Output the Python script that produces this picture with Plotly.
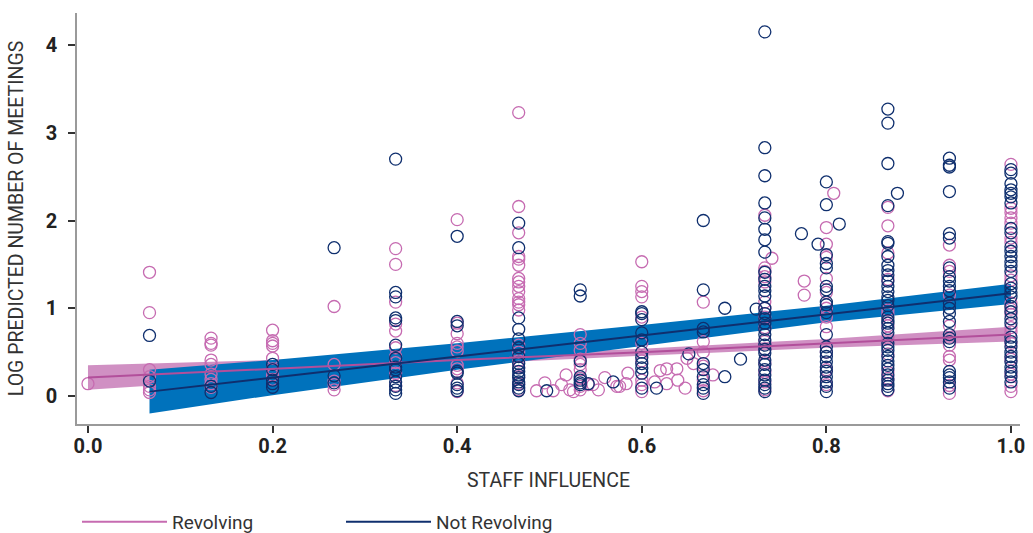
import plotly.graph_objects as go

# ---------------- data ----------------
staff_levels = [0.0, 1/15, 2/15, 0.2, 4/15, 1/3, 0.4, 7/15, 8/15, 0.6, 2/3, 11/15, 0.8, 13/15, 14/15, 1.0]

revolving_values = [
    [0.14],
    [1.41, 0.95, 0.30, 0.22, 0.11, 0.07, 0.04],
    [0.66, 0.60, 0.58, 0.41, 0.36, 0.25, 0.19, 0.14, 0.10],
    [0.75, 0.63, 0.60, 0.57, 0.43, 0.31, 0.24, 0.19],
    [1.02, 0.36, 0.17, 0.13, 0.07],
    [1.68, 1.50, 1.07, 0.82, 0.74, 0.55, 0.45, 0.38, 0.26, 0.12],
    [2.01, 0.83, 0.71, 0.60, 0.56, 0.51, 0.35, 0.31, 0.15, 0.05],
    [3.23, 2.16, 1.86, 1.59, 1.56, 1.49, 1.34, 1.30, 1.25, 1.19, 1.11, 1.07, 1.04, 0.98, 0.58, 0.50, 0.40, 0.33, 0.22, 0.14, 0.07],
    [0.70, 0.60, 0.52, 0.42, 0.36, 0.30, 0.20, 0.11, 0.07],
    [1.53, 1.25, 1.19, 1.13, 0.90, 0.60, 0.40, 0.18, 0.13, 0.05],
    [1.07, 0.62, 0.50, 0.34, 0.18, 0.06],
    [2.06, 1.46, 1.42, 1.36, 1.30, 1.07, 1.00, 0.90, 0.78, 0.62, 0.53, 0.38, 0.27, 0.16, 0.07],
    [1.92, 1.73, 1.58, 1.34, 1.18, 1.00, 0.90, 0.79, 0.50, 0.30, 0.13],
    [2.15, 1.94, 1.63, 1.33, 0.98, 0.94, 0.80, 0.66, 0.48, 0.27, 0.20, 0.06],
    [1.72, 1.49, 1.42, 1.15, 0.80, 0.58, 0.45, 0.41, 0.12, 0.03],
    [2.64, 2.14, 2.09, 2.03, 1.97, 1.80, 1.75, 1.37, 1.32, 1.06, 0.99, 0.93, 0.78, 0.73, 0.60, 0.42, 0.25, 0.11, 0.05],
]

not_revolving_values = [
    [],
    [0.69, 0.17],
    [0.11, 0.04],
    [0.36, 0.30, 0.18, 0.14, 0.10],
    [1.69, 0.23, 0.15],
    [2.70, 1.18, 1.13, 0.89, 0.86, 0.58, 0.43, 0.33, 0.30, 0.22, 0.16, 0.11, 0.07, 0.03],
    [1.82, 0.85, 0.80, 0.28, 0.26, 0.13, 0.09, 0.06],
    [1.97, 1.69, 0.89, 0.76, 0.65, 0.55, 0.45, 0.37, 0.32, 0.28, 0.24, 0.21, 0.16, 0.13, 0.09, 0.06],
    [1.21, 1.14, 0.40, 0.22, 0.18, 0.15, 0.13],
    [0.96, 0.94, 0.87, 0.72, 0.64, 0.50, 0.44, 0.37, 0.32, 0.26, 0.09],
    [2.00, 1.21, 0.77, 0.73, 0.37, 0.30, 0.22, 0.13, 0.09, 0.03],
    [4.15, 2.83, 2.51, 2.20, 2.03, 1.90, 1.78, 1.64, 1.41, 1.33, 1.25, 1.20, 1.14, 1.00, 0.94, 0.88, 0.83, 0.76, 0.70, 0.64, 0.58, 0.53, 0.49, 0.41, 0.36, 0.30, 0.24, 0.18, 0.13, 0.09, 0.05],
    [2.44, 2.18, 1.61, 1.51, 1.46, 1.25, 1.21, 1.07, 1.04, 0.95, 0.70, 0.56, 0.50, 0.45, 0.39, 0.33, 0.28, 0.22, 0.16, 0.11, 0.05],
    [3.27, 3.11, 2.65, 2.17, 1.76, 1.74, 1.59, 1.49, 1.43, 1.38, 1.31, 1.25, 1.19, 1.13, 1.09, 1.03, 0.90, 0.86, 0.83, 0.77, 0.72, 0.60, 0.56, 0.52, 0.45, 0.40, 0.35, 0.31, 0.24, 0.18, 0.14, 0.11, 0.07],
    [2.71, 2.63, 2.61, 2.33, 1.85, 1.80, 1.46, 1.36, 1.31, 1.25, 1.20, 1.06, 1.00, 0.94, 0.85, 0.70, 0.66, 0.62, 0.28, 0.24, 0.21, 0.16, 0.09],
    [2.58, 2.54, 2.42, 2.35, 2.31, 2.27, 2.20, 1.91, 1.86, 1.70, 1.65, 1.59, 1.53, 1.48, 1.42, 1.28, 1.23, 1.18, 1.13, 1.02, 0.96, 0.88, 0.83, 0.67, 0.62, 0.56, 0.50, 0.45, 0.39, 0.33, 0.28, 0.22, 0.16],
]

# off-grid observations
revolving_extra_x = [0.486, 0.495, 0.504, 0.513, 0.518, 0.522, 0.526, 0.542, 0.547, 0.553, 0.560, 0.573, 0.576,
                     0.583, 0.585, 0.614, 0.620, 0.627, 0.627, 0.638, 0.639, 0.647, 0.649, 0.656, 0.677,
                     0.741, 0.776, 0.776, 0.808]
revolving_extra_y = [0.06, 0.15, 0.06, 0.13, 0.24, 0.07, 0.05, 0.13, 0.13, 0.07, 0.21, 0.11, 0.11,
                     0.14, 0.26, 0.16, 0.29, 0.31, 0.14, 0.31, 0.18, 0.09, 0.43, 0.37, 0.24,
                     1.57, 1.31, 1.15, 2.31]
not_revolving_extra_x = [0.497, 0.542, 0.569, 0.616, 0.651, 0.690, 0.690, 0.707, 0.724, 0.773, 0.791, 0.814, 0.877]
not_revolving_extra_y = [0.06, 0.14, 0.16, 0.09, 0.48, 0.22, 1.00, 0.42, 0.99, 1.85, 1.73, 1.96, 2.31]

# fitted lines with confidence bands
rev_fit_x = [0.0, 0.2, 0.4, 0.6, 0.8, 1.0]
rev_fit = [0.21, 0.31, 0.41, 0.50, 0.60, 0.70]
rev_lo = [0.07, 0.21, 0.36, 0.46, 0.55, 0.62]
rev_hi = [0.35, 0.41, 0.46, 0.54, 0.65, 0.79]

nr_fit_x = [1/15, 0.2, 0.4, 0.6, 0.8, 1.0]
nr_fit = [0.05, 0.21, 0.45, 0.69, 0.93, 1.17]
nr_lo = [-0.20, 0.01, 0.30, 0.57, 0.84, 1.05]
nr_hi = [0.30, 0.41, 0.60, 0.81, 1.03, 1.28]

x_tick_vals = [0.0, 0.2, 0.4, 0.6, 0.8, 1.0]
y_tick_vals = [0, 1, 2, 3, 4]

# ---------------- styling ----------------
PINK = "#c66bb1"
PINK_LINE = "#b24f9b"
PINK_BAND = "rgba(200,124,184,0.85)"
NAVY = "#0f2f6e"
BLUE_BAND = "#0072bc"
FONT = "Roboto"


def flatten(levels, values, ex_x, ex_y):
    xs, ys = [], []
    for lv, vals in zip(levels, values):
        for v in vals:
            xs.append(lv)
            ys.append(v)
    return xs + list(ex_x), ys + list(ex_y)


rev_x, rev_y = flatten(staff_levels, revolving_values, revolving_extra_x, revolving_extra_y)
nr_x, nr_y = flatten(staff_levels, not_revolving_values, not_revolving_extra_x, not_revolving_extra_y)

fig = go.Figure()

# bands
fig.add_trace(go.Scatter(x=rev_fit_x + rev_fit_x[::-1], y=rev_hi + rev_lo[::-1], fill="toself",
                         fillcolor=PINK_BAND, line=dict(width=0), mode="lines",
                         hoverinfo="skip", showlegend=False))
fig.add_trace(go.Scatter(x=nr_fit_x + nr_fit_x[::-1], y=nr_hi + nr_lo[::-1], fill="toself",
                         fillcolor=BLUE_BAND, line=dict(width=0), mode="lines",
                         hoverinfo="skip", showlegend=False))

# points
fig.add_trace(go.Scatter(x=rev_x, y=rev_y, mode="markers", showlegend=False,
                         marker=dict(symbol="circle-open", size=12, color=PINK, line=dict(width=1.3))))
fig.add_trace(go.Scatter(x=nr_x, y=nr_y, mode="markers", showlegend=False,
                         marker=dict(symbol="circle-open", size=12, color=NAVY, line=dict(width=1.3))))

# fit lines
fig.add_trace(go.Scatter(x=rev_fit_x, y=rev_fit, mode="lines", line=dict(color=PINK_LINE, width=2),
                         showlegend=False))
fig.add_trace(go.Scatter(x=nr_fit_x, y=nr_fit, mode="lines", line=dict(color=NAVY, width=2),
                         showlegend=False))

# legend entries
fig.add_trace(go.Scatter(x=[None], y=[None], mode="lines", name="Revolving",
                         line=dict(color=PINK, width=2)))
fig.add_trace(go.Scatter(x=[None], y=[None], mode="lines", name="Not Revolving",
                         line=dict(color=NAVY, width=2)))

fig.update_layout(
    width=1033, height=533,
    margin=dict(l=77, r=13, t=13, b=109),
    paper_bgcolor="white", plot_bgcolor="white",
    font=dict(family=FONT, color="#333333"),
    legend=dict(orientation="h", x=0.0, xanchor="left",
                yref="container", y=0.021, yanchor="middle",
                font=dict(size=19, color="#333333", family=FONT),
                itemwidth=85, entrywidth=164, entrywidthmode="pixels",
                bgcolor="rgba(0,0,0,0)"),
    xaxis=dict(range=[-0.0119, 1.0098], tickvals=x_tick_vals, tickformat=".1f", automargin=False,
               showgrid=False, zeroline=False, showline=True, linecolor="#9a9a9a", linewidth=1.5,
               ticks="outside", ticklen=7, tickwidth=2, tickcolor="#333333", ticklabelstandoff=-4,
               tickfont=dict(size=20, color="#222222", family=FONT, weight="bold"),
               title=dict(text="STAFF INFLUENCE", font=dict(size=19.5, color="#333333", family=FONT),
                          standoff=17)),
    yaxis=dict(range=[-0.319, 4.365], tickvals=y_tick_vals, automargin=False,
               showgrid=False, zeroline=False, showline=True, linecolor="#9a9a9a", linewidth=1.5,
               ticks="outside", ticklen=7, tickwidth=2, tickcolor="#333333", ticklabelstandoff=7,
               tickfont=dict(size=20, color="#222222", family=FONT, weight="bold"),
               title=dict(text="LOG PREDICTED NUMBER OF MEETINGS",
                          font=dict(size=19.5, color="#333333", family=FONT), standoff=17)),
)

fig.write_html("out.html", config={"displayModeBar": False},
               post_script="document.body.style.margin='0';")
